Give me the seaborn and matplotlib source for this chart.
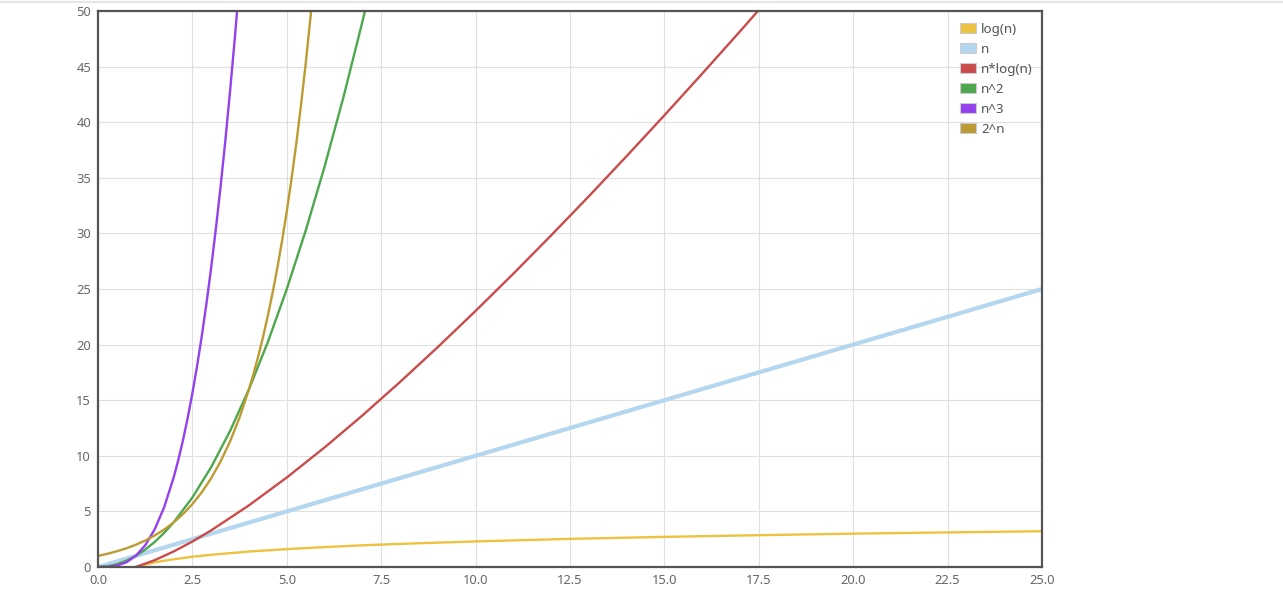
import matplotlib
matplotlib.use("Agg")
import matplotlib.pyplot as plt
from matplotlib.lines import Line2D
from matplotlib.patches import Patch
import pandas as pd
import seaborn as sns

# values, one small list per series
log_x = [1, 1.125, 1.25, 1.5, 1.75, 2, 2.5, 3, 4, 5, 6, 7, 8, 10, 12.5, 15, 17.5, 20, 22.5, 25]
log_y = [0, 0.118, 0.22, 0.41, 0.56, 0.69, 0.92, 1.10, 1.39, 1.61, 1.79, 1.95, 2.08, 2.30,
         2.53, 2.71, 2.86, 3.00, 3.11, 3.22]

lin_x = [0, 25]
lin_y = [0, 25]

nlog_x = [1, 1.5, 2, 2.5, 3, 4, 5, 6, 7, 8, 9, 10, 11, 12, 13, 14, 15, 16, 17, 17.5]
nlog_y = [0, 0.61, 1.39, 2.29, 3.30, 5.55, 8.05, 10.75, 13.62, 16.64, 19.78, 23.03,
          26.38, 29.82, 33.34, 36.95, 40.62, 44.36, 48.16, 50.09]

sq_x = [0, 0.25, 0.5, 0.75, 1, 1.25, 1.5, 1.75, 2, 2.5, 3, 3.5, 4, 4.5, 5, 5.5, 6, 6.5, 7, 7.5]
sq_y = [0, 0.0625, 0.25, 0.5625, 1, 1.5625, 2.25, 3.0625, 4, 6.25, 9, 12.25, 16, 20.25, 25,
        30.25, 36, 42.25, 49, 56.25]

cube_x = [0, 0.25, 0.5, 0.75, 1, 1.25, 1.5, 1.75, 2, 2.125, 2.25, 2.375, 2.5, 2.625, 2.75,
          2.875, 3, 3.125, 3.25, 3.375, 3.5, 3.625, 3.75]
cube_y = [0, 0.016, 0.125, 0.42, 1, 1.95, 3.375, 5.36, 8, 9.60, 11.39, 13.40, 15.63, 18.09,
          20.80, 23.76, 27, 30.52, 34.33, 38.44, 42.88, 47.63, 52.73]

exp_x = [0, 0.25, 0.5, 0.75, 1, 1.25, 1.5, 1.75, 2, 2.25, 2.5, 2.75, 3, 3.25, 3.5, 3.75,
         4, 4.125, 4.25, 4.375, 4.5, 4.625, 4.75, 4.875, 5, 5.125, 5.25, 5.375, 5.5, 5.625, 5.75]
exp_y = [1, 1.189, 1.414, 1.682, 2, 2.378, 2.828, 3.364, 4, 4.757, 5.657, 6.727, 8, 9.514,
         11.314, 13.454, 16, 17.45, 19.03, 20.75, 22.63, 24.68, 26.91, 29.34, 32, 34.90,
         38.05, 41.50, 45.25, 49.35, 53.82]

labels = ["log(n)", "n", "n*log(n)", "n^2", "n^3", "2^n"]
colors = ["#edc240", "#b4d6ee", "#cb4b4b", "#4da74d", "#9440ed", "#bd9b33"]


def main():
    sns.set_style("white")
    plt.rcParams["font.family"] = ["Noto Sans", "DejaVu Sans"]

    series = [(log_x, log_y), (lin_x, lin_y), (nlog_x, nlog_y),
              (sq_x, sq_y), (cube_x, cube_y), (exp_x, exp_y)]

    fig = plt.figure(figsize=(12.83, 5.93), dpi=100)
    ax = fig.add_axes([98 / 1283, 26 / 593, 944 / 1283, 556 / 593])

    for (xs, ys), lab, c in zip(series, labels, colors):
        df = pd.DataFrame({"x": xs, "y": ys})
        lw = 3.0 if lab == "n" else 1.7
        sns.lineplot(data=df, x="x", y="y", ax=ax, color=c, lw=lw,
                     sort=False, estimator=None, solid_joinstyle="round",
                     zorder=3 if lab != "n" else 2)

    ax.set_xlim(0, 25)
    ax.set_ylim(0, 50)
    ax.set_xticks([i * 2.5 for i in range(11)])
    ax.set_xticklabels([f"{i * 2.5:.1f}" for i in range(11)])
    ax.set_yticks(range(0, 51, 5))
    ax.set_xlabel("")
    ax.set_ylabel("")
    ax.grid(True, color="#e0e0e0", lw=0.8)
    ax.set_axisbelow(True)
    ax.tick_params(length=0, labelsize=9.3, labelcolor="#666666", pad=5)
    for s in ax.spines.values():
        s.set_color("#555555")
        s.set_linewidth(1.6)
        s.set_zorder(5)

    handles = [Patch(facecolor=c, edgecolor="#cccccc", linewidth=0.8) for c in colors]
    ax.legend(handles, labels, loc="upper right", bbox_to_anchor=(0.999, 0.993),
              frameon=False, fontsize=9.6, labelcolor="#545454",
              handlelength=1.2, handleheight=0.75, handletextpad=0.4,
              labelspacing=0.52, borderaxespad=0.2)

    fig.add_artist(Line2D([0, 1], [1 - 2 / 593, 1 - 2 / 593], color="#e6e6e6", lw=1.6))

    fig.savefig("out.png", dpi=100)


if __name__ == "__main__":
    main()
